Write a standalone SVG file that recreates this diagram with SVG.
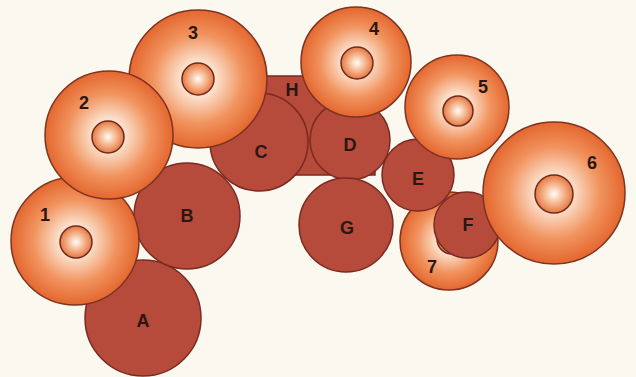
<svg xmlns="http://www.w3.org/2000/svg" width="636" height="377" viewBox="0 0 636 377">
<defs>
<radialGradient id="gBig">
<stop offset="0" stop-color="#fff8f2"/>
<stop offset="0.28" stop-color="#fbdcc6"/>
<stop offset="0.65" stop-color="#f1935e"/>
<stop offset="1" stop-color="#e4672f"/>
</radialGradient>
<radialGradient id="gIn">
<stop offset="0" stop-color="#ffffff"/>
<stop offset="0.3" stop-color="#fbd3b6"/>
<stop offset="1" stop-color="#e57840"/>
</radialGradient>
<style>
.big{fill:url(#gBig);stroke:#7e3322;stroke-width:1.5}
.in{fill:url(#gIn);stroke:#6e2a1c;stroke-width:1.5}
.dk{fill:#b64a3b;stroke:#7a2a20;stroke-width:1.5}
.t{font-family:"Liberation Sans",Arial,sans-serif;font-weight:bold;font-size:18px;fill:#2a1712;text-anchor:middle}
</style>
</defs>
<rect width="636" height="377" fill="#fbf8ef"/>
<g id="H"><rect class="dk" x="262" y="76" width="113" height="99"/><text class="t" x="292" y="96">H</text></g>
<g id="A"><circle class="dk" cx="143" cy="318" r="58"/><text class="t" x="143" y="327">A</text></g>
<g id="B"><circle class="dk" cx="187" cy="216" r="53"/><text class="t" x="187" y="222">B</text></g>
<g id="C"><circle class="dk" cx="259" cy="142" r="49"/><text class="t" x="261" y="158">C</text></g>
<g id="n3"><circle class="big" cx="198" cy="79" r="69"/><circle class="in" cx="198" cy="79" r="16"/><text class="t" x="193" y="39">3</text></g>
<g id="n1"><circle class="big" cx="75" cy="241" r="64"/><circle class="in" cx="76" cy="242" r="16"/><text class="t" x="45" y="221">1</text></g>
<g id="n2"><circle class="big" cx="109" cy="135" r="64"/><circle class="in" cx="108" cy="137" r="16"/><text class="t" x="84" y="109">2</text></g>
<g id="D"><circle class="dk" cx="350" cy="140" r="40"/><text class="t" x="350" y="151">D</text></g>
<g id="G"><circle class="dk" cx="346" cy="225" r="47"/><text class="t" x="347" y="234">G</text></g>
<g id="n4"><circle class="big" cx="356" cy="62" r="55"/><circle class="in" cx="357" cy="63" r="16"/><text class="t" x="374" y="35">4</text></g>
<g id="n7"><circle class="big" cx="449" cy="241" r="49"/><circle class="in" cx="452" cy="239" r="15"/><text class="t" x="432" y="273">7</text></g>
<g id="E"><circle class="dk" cx="418" cy="175" r="36"/><text class="t" x="418" y="185">E</text></g>
<g id="n5"><circle class="big" cx="457" cy="107" r="52"/><circle class="in" cx="458" cy="111" r="15"/><text class="t" x="483" y="93">5</text></g>
<g id="F"><circle class="dk" cx="467" cy="225" r="33"/><text class="t" x="468" y="231">F</text></g>
<g id="n6"><circle class="big" cx="554" cy="193" r="71"/><circle class="in" cx="554" cy="194" r="19"/><text class="t" x="592" y="169">6</text></g>
</svg>
